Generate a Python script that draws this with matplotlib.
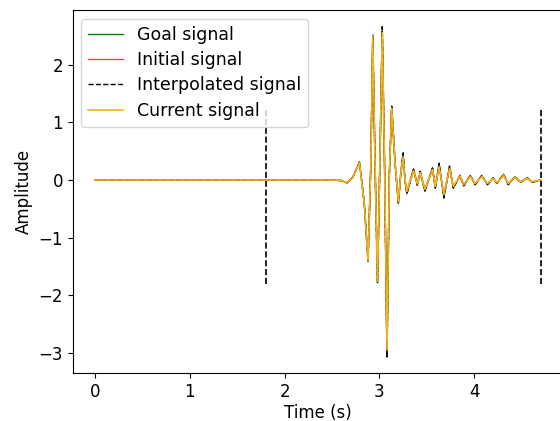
import matplotlib.pyplot as plt

# extrema (time in s, amplitude)
time = [0.0, 2.50, 2.60, 2.66, 2.72, 2.79, 2.84, 2.88, 2.91, 2.93, 2.955, 2.98, 3.005,
        3.03, 3.055, 3.08, 3.105, 3.13, 3.165, 3.20, 3.225, 3.25, 3.27, 3.29, 3.36,
        3.40, 3.43, 3.48, 3.56, 3.59, 3.63, 3.68, 3.74, 3.78, 3.85, 3.89, 3.96, 4.01,
        4.08, 4.14, 4.20, 4.24, 4.31, 4.36, 4.43, 4.49, 4.56, 4.61, 4.70]
goal_amp = [0.0, 0.0, -0.01, -0.05, 0.05, 0.31, -0.4, -1.41, 0.3, 2.52, 0.2, -1.78, 0.3,
            2.66, 0.2, -3.07, 0.1, 1.28, 0.3, -0.40, 0.1, 0.47, 0.0, -0.24, 0.18,
            -0.09, 0.15, -0.19, 0.21, -0.14, 0.29, -0.31, 0.24, -0.14, 0.08, -0.10, 0.08, -0.08,
            0.08, -0.08, 0.04, -0.06, 0.10, -0.08, 0.06, -0.04, 0.04, -0.04, 0.0]
initial_amp = [0.0, 0.0, -0.01, -0.05, 0.05, 0.31, -0.4, -1.40, 0.3, 2.50, 0.2, -1.76, 0.3,
               2.60, 0.2, -3.00, 0.1, 1.27, 0.3, -0.38, 0.1, 0.42, 0.0, -0.20, 0.20,
               -0.06, 0.12, -0.16, 0.18, -0.11, 0.24, -0.26, 0.21, -0.12, 0.06, -0.08, 0.07, -0.07,
               0.06, -0.07, 0.03, -0.05, 0.08, -0.06, 0.05, -0.03, 0.03, -0.03, 0.0]
current_amp = [0.0, 0.0, -0.01, -0.05, 0.05, 0.30, -0.4, -1.40, 0.3, 2.50, 0.2, -1.76, 0.3,
               2.56, 0.2, -2.95, 0.1, 1.25, 0.3, -0.38, 0.1, 0.40, 0.0, -0.20, 0.16,
               -0.07, 0.13, -0.16, 0.18, -0.11, 0.23, -0.25, 0.20, -0.11, 0.07, -0.08, 0.06, -0.06,
               0.06, -0.06, 0.03, -0.05, 0.08, -0.06, 0.05, -0.03, 0.03, -0.03, 0.0]
interp_amp = goal_amp
window_edges = [1.8, 4.7]
window_low, window_high = -1.8, 1.25

fig = plt.figure(figsize=(5.6, 4.21), dpi=100)
ax = fig.add_axes([0.130, 0.114, 0.875, 0.862])

ax.plot(time, goal_amp, color='green', lw=1, label='Goal signal')
ax.plot(time, initial_amp, color='tab:red', lw=1, alpha=0.8, label='Initial signal')
ax.plot(time, interp_amp, 'k--', lw=1, label='Interpolated signal')
ax.vlines(window_edges, window_low, window_high, colors='k', linestyles='--', lw=1.2)
ax.plot(time, current_amp, color='#f5b21c', lw=1.2, label='Current signal')

ax.set_xlim(-0.235, 4.935)
ax.set_ylim(-3.35, 2.95)
ax.set_xticks([0, 1, 2, 3, 4])
ax.set_yticks([-3, -2, -1, 0, 1, 2])
ax.tick_params(labelsize=12)
ax.set_xlabel('Time (s)', fontsize=12, labelpad=2)
ax.set_ylabel('Amplitude', fontsize=12)
ax.legend(loc='upper left', fontsize=12.5, handlelength=2, borderaxespad=0.5,
          labelspacing=0.42)

fig.savefig('out.png')
